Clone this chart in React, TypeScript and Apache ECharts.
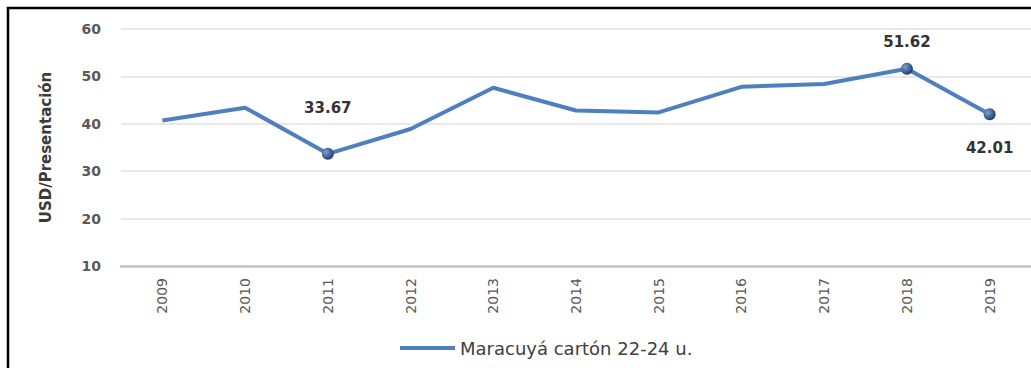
import React, { useEffect, useRef } from "react";
import * as echarts from "echarts";

// Annual price series, USD per presentation
const years = ["2009", "2010", "2011", "2012", "2013", "2014", "2015", "2016", "2017", "2018", "2019"];
const prices = [40.7, 43.4, 33.67, 38.9, 47.6, 42.8, 42.4, 47.8, 48.4, 51.62, 42.01];
// Points that carry a marker and a value label: index -> label placement
const highlighted: Record<number, { position: "top" | "bottom"; distance: number }> = {
  2: { position: "top", distance: 32 },
  9: { position: "top", distance: 13 },
  10: { position: "bottom", distance: 20 },
};
const yTicks = { min: 10, max: 60, interval: 10 };
const seriesName = "Maracuyá cartón 22-24 u.";
const yAxisTitle = "USD/Presentación";

const FONT = "'DejaVu Sans', sans-serif";
const LINE_COLOR = "#4f7fbf";

export default function App() {
  const ref = useRef<HTMLDivElement>(null);

  useEffect(() => {
    if (!ref.current) return;
    const chart = echarts.init(ref.current, undefined, { renderer: "svg" });

    const data = prices.map((v, i) => {
      const h = highlighted[i];
      if (!h) return { value: v, symbolSize: 0 };
      return {
        value: v,
        symbol: "circle",
        symbolSize: 12,
        itemStyle: {
          color: new echarts.graphic.RadialGradient(0.35, 0.35, 0.7, [
            { offset: 0, color: "#7b9fd0" },
            { offset: 1, color: "#1d3b6b" },
          ]),
        },
        label: {
          show: true,
          position: h.position,
          distance: h.distance,
          formatter: v.toFixed(2),
          fontFamily: FONT,
          fontWeight: "bold",
          fontSize: 15,
          color: "#333333",
        },
      };
    });

    chart.setOption({
      animation: false,
      backgroundColor: "#ffffff",
      color: [LINE_COLOR],
      graphic: [
        {
          type: "rect",
          shape: { x: 8, y: 8, width: 1100, height: 500 },
          style: { fill: "none", stroke: "#000000", lineWidth: 2.5 },
          silent: true,
          z: 100,
        },
      ],
      grid: { left: 121, right: -3, top: 29, bottom: 102 },
      legend: {
        left: 395,
        top: 334,
        icon: "rect",
        itemWidth: 55,
        itemHeight: 4,
        itemGap: 10,
        textStyle: { fontFamily: FONT, fontSize: 18, color: "#404040" },
        data: [seriesName],
      },
      xAxis: {
        type: "category",
        data: years,
        boundaryGap: true,
        axisLine: { show: true, lineStyle: { color: "#c4c4c4", width: 2.5 } },
        axisTick: { show: false },
        axisLabel: {
          rotate: 90,
          margin: 12,
          fontFamily: FONT,
          fontSize: 14,
          color: "#595959",
        },
      },
      yAxis: {
        type: "value",
        min: yTicks.min,
        max: yTicks.max,
        interval: yTicks.interval,
        name: yAxisTitle,
        nameLocation: "middle",
        nameGap: 68,
        nameTextStyle: { fontFamily: FONT, fontWeight: "bold", fontSize: 15, color: "#3a3a3a" },
        axisLine: { show: false },
        axisTick: { show: false },
        axisLabel: {
          margin: 20,
          fontFamily: FONT,
          fontWeight: "bold",
          fontSize: 14,
          color: "#595959",
        },
        splitLine: { lineStyle: { color: "#e2e2e2", width: 1.5 } },
      },
      series: [
        {
          name: seriesName,
          type: "line",
          data,
          showSymbol: true,
          showAllSymbol: true,
          symbol: "circle",
          lineStyle: { color: LINE_COLOR, width: 4 },
          itemStyle: { color: LINE_COLOR },
          z: 3,
        },
      ],
    });

    return () => chart.dispose();
  }, []);

  return (
    <div
      ref={ref}
      style={{ position: "fixed", left: 0, top: 0, width: 1031, height: 368, background: "#fff" }}
    />
  );
}
